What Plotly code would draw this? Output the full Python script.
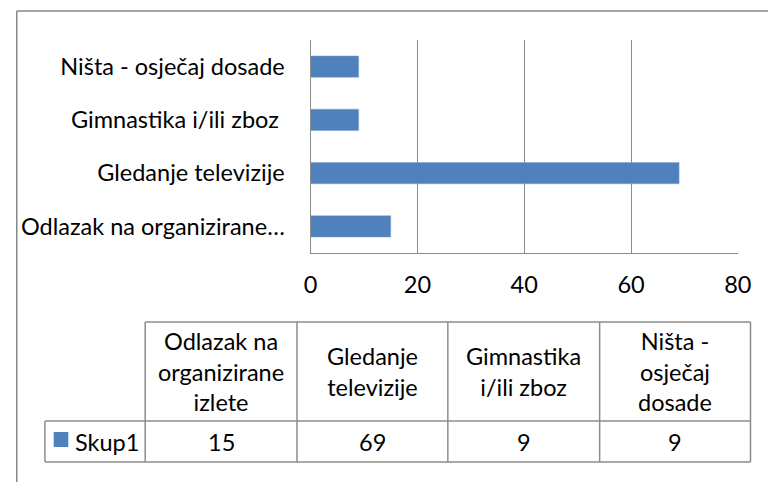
import plotly.graph_objects as go

# data (bottom to top, as drawn)
categories = ["Odlazak na organizirane izlete", "Gledanje televizije", "Gimnastika i/ili zboz", "Ništa - osječaj dosade"]
axis_labels = ["Odlazak na organizirane…", "Gledanje televizije", "Gimnastika i/ili zboz ", "Ništa - osječaj dosade"]
table_headers = ["Odlazak na<br>organizirane<br>izlete", "Gledanje<br>televizije", "Gimnastika<br>i/ili zboz", "Ništa -<br>osječaj<br>dosade"]
series_name = "Skup1"
values = [15, 69, 9, 9]
x_ticks = [0, 20, 40, 60, 80]

W, H = 782, 482
BLUE = "#4F81BD"
GRID = "#8C8C8C"
FONT = "Lato"
FS = 23.5


def px(x):
    return x / W


def py(y):
    return 1 - y / H


fig = go.Figure(go.Bar(
    x=values, y=categories, orientation="h",
    marker=dict(color=BLUE, line=dict(color="#7FA3D3", width=0.5)),
    showlegend=False,
))

fig.update_layout(
    width=W, height=H, autosize=False,
    margin=dict(l=0, r=0, t=0, b=0),
    paper_bgcolor="white", plot_bgcolor="white",
    font=dict(family=FONT, size=FS, color="#000000"),
    bargap=0.6,
    xaxis=dict(
        domain=[px(312), px(751)], range=[0, 80], tickvals=x_ticks,
        showgrid=True, gridcolor=GRID, gridwidth=1.3,
        showline=True, linecolor=GRID, linewidth=1.3,
        zeroline=False, ticks="", ticklabelstandoff=11,
    ),
    yaxis=dict(
        domain=[py(253), py(40)], type="category",
        tickvals=categories, ticktext=axis_labels,
        showgrid=False, showline=True, linecolor=GRID, linewidth=1.3,
        ticks="", ticklabelstandoff=20,
    ),
)

shapes = []


def seg(x0, y0, x1, y1, color=GRID, width=1.5):
    shapes.append(dict(type="line", xref="paper", yref="paper",
                       x0=px(x0), y0=py(y0), x1=px(x1), y1=py(y1),
                       line=dict(color=color, width=width)))


# outer chart frame: only its top and left edges fall inside the picture
seg(10, 11, W, 11, color="#868686")
seg(10, 11, 10, H, color="#868686")

# data table
cols = [39, 142, 298, 453, 609, 764]
top, mid, bot = 322, 421, 462
seg(cols[1], top, cols[-1], top)
seg(cols[0], mid, cols[-1], mid)
seg(cols[0], bot, cols[-1], bot)
seg(cols[0], mid, cols[0], bot)
for c in cols[1:]:
    seg(c, top, c, bot)

# legend key square
shapes.append(dict(type="rect", xref="paper", yref="paper",
                   x0=px(48), x1=px(63), y0=py(432), y1=py(447),
                   fillcolor=BLUE, line=dict(width=0)))

annotations = []
for i, (head, val) in enumerate(zip(table_headers, values)):
    cx = (cols[i + 1] + cols[i + 2]) / 2
    annotations.append(dict(x=px(cx), y=py((top + mid) / 2), xref="paper", yref="paper",
                            text=head, showarrow=False, xanchor="center", yanchor="middle",
                            font=dict(size=FS)))
    annotations.append(dict(x=px(cx), y=py((mid + bot) / 2), xref="paper", yref="paper",
                            text=str(val), showarrow=False, xanchor="center", yanchor="middle",
                            font=dict(size=FS)))
annotations.append(dict(x=px(68), y=py((mid + bot) / 2), xref="paper", yref="paper",
                        text=series_name, showarrow=False, xanchor="left", yanchor="middle",
                        font=dict(size=FS)))

fig.update_layout(shapes=shapes, annotations=annotations)

# no page margin or scrollbars, and no resize handler
post = (
    "document.documentElement.style.overflow='hidden';"
    "document.body.style.margin='0';document.body.style.overflow='hidden';"
)
fig.write_html("out.html", config={"displayModeBar": False, "responsive": False}, post_script=post)
